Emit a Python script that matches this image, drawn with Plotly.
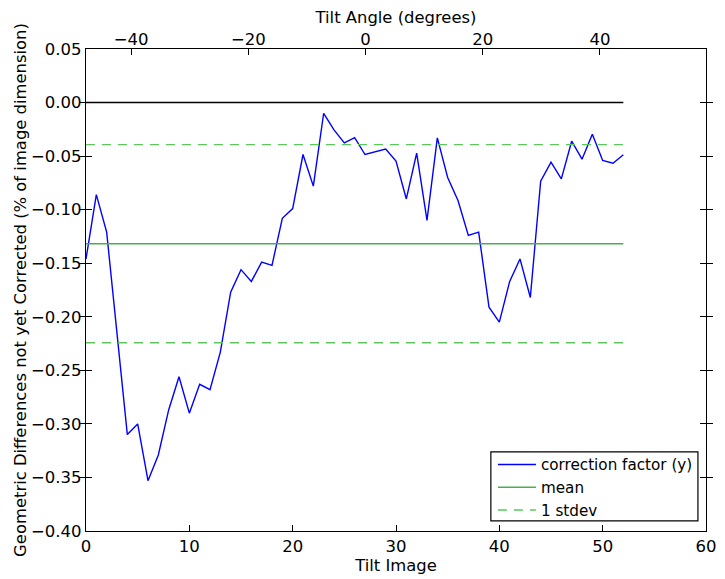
import plotly.graph_objects as go

tilt_image = list(range(53))
correction_y = [-0.146, -0.086, -0.121, -0.215, -0.310, -0.300, -0.353, -0.329, -0.287, -0.256,
                -0.290, -0.263, -0.268, -0.233, -0.177, -0.156, -0.167, -0.149, -0.152, -0.108,
                -0.099, -0.0485, -0.078, -0.010, -0.0255, -0.0376, -0.0327, -0.0485, -0.0463, -0.0435,
                -0.0547, -0.090, -0.0473, -0.110, -0.033, -0.070, -0.0914, -0.124, -0.121, -0.191,
                -0.205, -0.167, -0.146, -0.182, -0.0734, -0.0557, -0.0712, -0.0361, -0.0529, -0.0296,
                -0.0541, -0.0566, -0.0488]
zero_level = 0.0
mean_value = -0.1318
stdev_value = 0.0925
line_x = [0, 52]

x_ticks = [0, 10, 20, 30, 40, 50, 60]
y_ticks = [0.05, 0.0, -0.05, -0.10, -0.15, -0.20, -0.25, -0.30, -0.35, -0.40]
angle_ticks = [-40, -20, 0, 20, 40]
angle_range = [-47.7, 58.1]

FAM = "DejaVu Sans"
FS = 16.5
font = dict(family=FAM, size=FS, color="black")
title_font = dict(family=FAM, size=16.4, color="black")

fig = go.Figure()
fig.add_trace(go.Scatter(x=tilt_image, y=correction_y, mode="lines", name="correction factor (y)",
                         line=dict(color="#0000ff", width=1.4)))
fig.add_trace(go.Scatter(x=line_x, y=[zero_level, zero_level], mode="lines", showlegend=False,
                         line=dict(color="black", width=1.4)))
fig.add_trace(go.Scatter(x=line_x, y=[mean_value, mean_value], mode="lines", name="mean",
                         line=dict(color="#4daf4a", width=1.4)))
fig.add_trace(go.Scatter(x=line_x, y=[mean_value + stdev_value] * 2, mode="lines", name="1 stdev",
                         line=dict(color="#5cc85c", width=1.4, dash="9px,7px")))
fig.add_trace(go.Scatter(x=line_x, y=[mean_value - stdev_value] * 2, mode="lines", showlegend=False,
                         line=dict(color="#5cc85c", width=1.4, dash="9px,7px")))
# invisible trace to activate the top axis
fig.add_trace(go.Scatter(x=angle_range, y=[None, None], xaxis="x2", mode="lines", showlegend=False,
                         hoverinfo="skip"))

# legend frame (paper coordinates)
fig.add_shape(type="rect", xref="paper", yref="paper",
              x0=0.653, x1=0.987, y0=0.021, y1=0.164,
              line=dict(color="black", width=1.2), fillcolor="white", layer="above")

fig.update_layout(
    width=725, height=579,
    margin=dict(l=78, r=27, t=41, b=56, autoexpand=False),
    paper_bgcolor="white", plot_bgcolor="white",
    font=font,
    showlegend=True,
    legend=dict(x=0.987, y=0.008, xanchor="right", yanchor="bottom",
                borderwidth=0, bgcolor="rgba(0,0,0,0)", itemwidth=38,
                font=dict(family=FAM, size=15.2, color="black"), tracegroupgap=0),
    xaxis=dict(range=[0, 60], tickvals=x_ticks, ticks="inside", ticklen=6, tickcolor="black",
               showline=True, linecolor="black", linewidth=1.3, mirror=True, showgrid=False,
               zeroline=False, automargin=False,
               title=dict(text="Tilt Image", standoff=3, font=title_font)),
    xaxis2=dict(range=angle_range, tickvals=angle_ticks, ticks="inside", ticklen=6, tickcolor="black",
                overlaying="x", side="top", anchor="y", showgrid=False, zeroline=False,
                showline=False, automargin=False,
                title=dict(text="Tilt Angle (degrees)", standoff=3, font=title_font)),
    yaxis=dict(range=[-0.40, 0.05], tickvals=y_ticks, tickformat=".2f", ticks="inside", ticklen=6,
               tickcolor="black", showline=True, linecolor="black", linewidth=1.3, mirror="allticks",
               showgrid=False, zeroline=False, automargin=False,
               title=dict(text="Geometric Differences not yet Corrected (% of image dimension)",
                          standoff=0, font=title_font)),
)

fig.write_html("out.html")
